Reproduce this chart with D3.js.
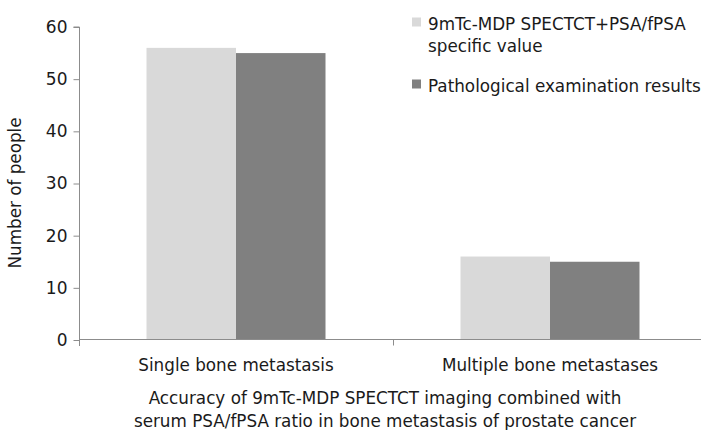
<!DOCTYPE html>
<html>
<head>
<meta charset="utf-8">
<script src="https://cdn.jsdelivr.net/npm/d3@7"></script>
<style>
  body { margin: 0; background: #fff; }
  svg text { font-family: "DejaVu Sans", sans-serif; fill: #1a1a1a; }
</style>
</head>
<body>
<div id="chart"></div>
<script>
var width = 701, height = 430;
var fs = "16.8px";

// data
var categories = ["Single bone metastasis", "Multiple bone metastases"];
var seriesNames = ["9mTc-MDP SPECTCT+PSA/fPSA specific value", "Pathological examination results"];
var combinedValues = [56, 16];
var pathologyValues = [55, 15];
var yTicks = [0, 10, 20, 30, 40, 50, 60];
var colors = ["#d9d9d9", "#808080"];

var rows = categories.map(function(c, i) {
  return {cat: c, vals: [combinedValues[i], pathologyValues[i]]};
});

var svg = d3.select("#chart").append("svg")
  .attr("width", width)
  .attr("height", height);

var x = d3.scaleBand().domain(categories).range([79, 707]).paddingInner(0).paddingOuter(0);
var y = d3.scaleLinear().domain([0, 60]).range([340, 27]);
var groupW = 179;
var xs = d3.scaleBand().domain([0, 1]).range([0, groupW]);

// bars
var g = svg.selectAll("g.grp")
  .data(rows).enter()
  .append("g")
  .attr("class", "grp")
  .attr("transform", function(d) {
    return "translate(" + (x(d.cat) + x.bandwidth() / 2 - groupW / 2) + ",0)";
  });

g.selectAll("rect")
  .data(function(d) { return d.vals; }).enter()
  .append("rect")
  .attr("x", function(d, i) { return xs(i); })
  .attr("width", xs.bandwidth())
  .attr("y", function(d) { return y(d); })
  .attr("height", function(d) { return y(0) - y(d); })
  .attr("fill", function(d, i) { return colors[i]; });

// y axis
var yAxis = svg.append("g")
  .attr("transform", "translate(79.5,0)")
  .call(d3.axisLeft(y).tickValues(yTicks).tickSize(6).tickPadding(6));
yAxis.select(".domain").attr("stroke", "#8c8c8c").attr("d", "M-6," + y(60) + "H0V346");
yAxis.selectAll(".tick line").attr("stroke", "#8c8c8c");
yAxis.selectAll(".tick text").style("font-size", "17px").attr("fill", "#1a1a1a");

// x axis
var xAxis = svg.append("g")
  .attr("transform", "translate(0,339.5)")
  .call(d3.axisBottom(x).tickSize(0).tickPadding(20));
xAxis.select(".domain").attr("stroke", "#8c8c8c").attr("d", "M79,0H707");
xAxis.selectAll(".tick text").style("font-size", fs).attr("fill", "#1a1a1a");
// tick marks between categories
xAxis.selectAll("line.sep")
  .data(categories.slice(1)).enter()
  .append("line")
  .attr("class", "sep")
  .attr("x1", function(d) { return Math.round(x(d)) + 0.5; })
  .attr("x2", function(d) { return Math.round(x(d)) + 0.5; })
  .attr("y1", 0).attr("y2", 6)
  .attr("stroke", "#8c8c8c");

// axis titles
svg.append("text")
  .attr("transform", "translate(21,193) rotate(-90)")
  .attr("text-anchor", "middle")
  .style("font-size", fs)
  .text("Number of people");

var title = svg.append("text")
  .attr("text-anchor", "middle")
  .style("font-size", fs);
title.append("tspan").attr("x", 385).attr("y", 404)
  .text("Accuracy of 9mTc-MDP SPECTCT imaging combined with");
title.append("tspan").attr("x", 385).attr("y", 427)
  .text("serum PSA/fPSA ratio in bone metastasis of prostate cancer");

// legend
var legendLines = [["9mTc-MDP SPECTCT+PSA/fPSA", "specific value"], ["Pathological examination results"]];
var legendY = [17.5, 79.5];
var leg = svg.selectAll("g.leg")
  .data(seriesNames).enter()
  .append("g")
  .attr("class", "leg")
  .attr("transform", function(d, i) { return "translate(412," + legendY[i] + ")"; });
leg.append("rect")
  .attr("width", 9).attr("height", 9)
  .attr("fill", function(d, i) { return colors[i]; });
leg.append("text")
  .style("font-size", fs)
  .selectAll("tspan")
  .data(function(d, i) { return legendLines[i]; }).enter()
  .append("tspan")
  .attr("x", 16)
  .attr("y", function(d, i) { return 12 + i * 22.5; })
  .text(function(d) { return d; });
</script>
</body>
</html>
